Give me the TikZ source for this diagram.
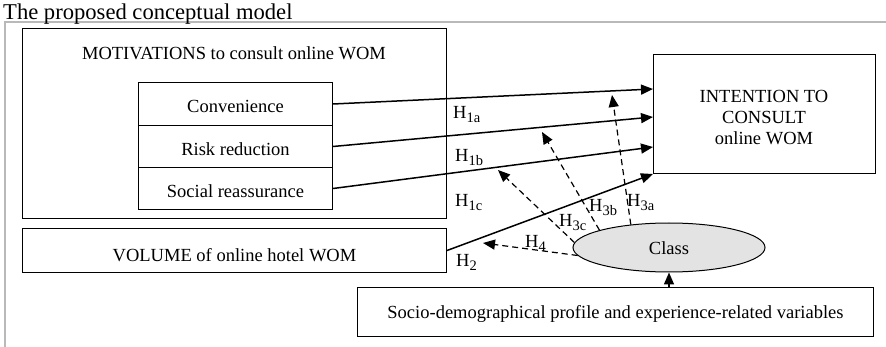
\documentclass[tikz,border=0pt]{standalone}
\usepackage{fontspec}
\setmainfont{Liberation Serif}
\usetikzlibrary{shapes.geometric,arrows.meta,calc}
\newcommand{\Hsub}[1]{H\raisebox{-3.5pt}{\fontsize{14.5}{14.5}\selectfont #1}}
\begin{document}
\begin{tikzpicture}[x=1pt,y=-1pt,
  font=\fontsize{18.5}{21}\selectfont,
  box/.style={draw, line width=1pt, inner sep=0pt, anchor=north west, text height=18pt, text depth=0pt},
  arr/.style={line width=1.5pt, -{Triangle[length=12pt,width=10pt]}},
  darr/.style={line width=1.2pt, dash pattern=on 6pt off 4pt, -{Triangle[length=12pt,width=10pt]}},
  lbl/.style={anchor=base west, inner sep=0pt}]
\useasboundingbox (0,0) rectangle (886,347);
% outer frame
\draw[gray!55, line width=1.3pt] (5,347) -- (5,22) -- (886,22);
\node[anchor=base west, inner sep=0pt, font=\fontsize{22.6}{24}\selectfont] (title) at (3,20) {The proposed conceptual model};
% motivations
\node[box, minimum width=424pt, minimum height=190pt] (mot) at (22,28) {};
\node[anchor=base, inner sep=0pt] (motl) at (234,60) {MOTIVATIONS to consult online WOM};
\node[box, minimum width=194pt, minimum height=43pt] (conv) at (138,82) {Convenience};
\node[box, minimum width=194pt, minimum height=42pt] (risk) at (138,125) {Risk reduction};
\node[box, minimum width=194pt, minimum height=42pt] (soc) at (138,167) {Social reassurance};
% volume
\node[box, minimum width=424pt, minimum height=44pt, text height=22pt] (vol) at (22,228) {VOLUME of online hotel WOM};
% socio
\node[box, minimum width=516pt, minimum height=49pt, text height=14pt] (socio) at (357,287) {Socio-demographical profile and experience-related variables};
% intention
\node[box, minimum width=222pt, minimum height=119pt] (int) at (653,54) {};
\node[align=center, inner sep=0pt] (intl) at (764,118) {INTENTION TO\\CONSULT\\online WOM};
% class
\node[ellipse, draw, line width=1pt, fill=black!11, minimum width=192pt, minimum height=49pt, inner sep=0pt, text height=15pt, text depth=0pt] (class) at (669,247.5) {Class};
% arrow end points
\coordinate (e1) at (653,89);
\coordinate (e2) at (653,117);
\coordinate (e3) at (653,147);
\coordinate (d3a) at (612,95);
\coordinate (d3b) at (542,132);
\coordinate (d3c) at (498,170);
\coordinate (d4) at (483,243);
% solid arrows
\draw[arr] (conv.east) -- (e1);
\draw[arr] (risk.east) -- (e2);
\draw[arr] (soc.east) -- (e3);
\draw[arr] (vol.east) -- (int.south west);
\draw[arr] (class.south |- socio.north) -- (class.south);
% dashed arrows
\draw[darr] (class.149) -- (d3a);
\draw[darr] (class.166) -- (d3b);
\draw[darr] (class.177) -- (d3c);
\draw[darr] (class.185) -- (d4);
% labels
\node[lbl] (h1a) at (453,119) {\Hsub{1a}};
\node[lbl] (h1b) at (455,162) {\Hsub{1b}};
\node[lbl] (h1c) at (455,207) {\Hsub{1c}};
\node[lbl] (h2) at (456,267) {\Hsub{2}};
\node[lbl] (h3a) at (627,207) {\Hsub{3a}};
\node[lbl] (h3b) at (589,212) {\Hsub{3b}};
\node[lbl] (h3c) at (559,227) {\Hsub{3c}};
\node[lbl] (h4) at (525,248) {\Hsub{4}};
\end{tikzpicture}
\end{document}
